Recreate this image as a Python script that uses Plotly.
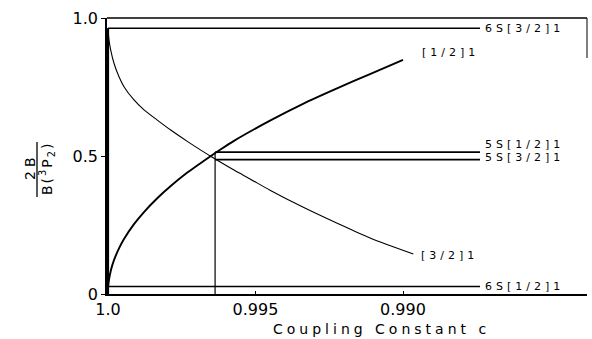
import plotly.graph_objects as go

# ---------------- data ----------------
# [1/2]1 curve (rising)
c_half = [1.0, 0.999966, 0.999898, 0.999797, 0.999627, 0.999458, 0.999119, 0.998780,
          0.998339, 0.997864, 0.997322, 0.996746, 0.996475, 0.996237, 0.995729,
          0.994508, 0.993390, 0.992237, 0.991119, 0.990000]
y_half = [0.025, 0.052, 0.088, 0.123, 0.165, 0.199, 0.253, 0.297,
          0.346, 0.392, 0.439, 0.483, 0.503, 0.520, 0.555,
          0.628, 0.689, 0.745, 0.797, 0.848]

# [3/2]1 curve (falling)
c_three = [1.0, 0.999966, 0.999908, 0.999797, 0.999627, 0.999458, 0.999119, 0.998780,
           0.998329, 0.997875, 0.997312, 0.996746, 0.996519, 0.995729, 0.995186,
           0.994508, 0.993380, 0.992248, 0.991119, 0.989651]
y_three = [0.963, 0.920, 0.884, 0.836, 0.787, 0.751, 0.703, 0.667,
           0.630, 0.594, 0.553, 0.514, 0.499, 0.449, 0.417,
           0.376, 0.314, 0.257, 0.203, 0.145]

level_names = ["6S[3/2]1", "5S[1/2]1", "5S[3/2]1", "6S[1/2]1"]
level_values = [0.963, 0.514, 0.487, 0.027]
level_c_start = [1.0, 0.99637, 0.99637, 1.0]
level_c_end = 0.98739
crossing_c = 0.99637

curve_labels = ["[1/2]1", "[3/2]1"]

x_tickvals = [1.0, 0.995, 0.990]
x_ticktext = ["1.0", "0.995", "0.990"]
y_tickvals = [0, 0.5, 1.0]
y_ticktext = ["0", "0.5", "1.0"]

x_range = [1.000034, 0.983763]
y_range = [0.0, 1.0]

# ---------------- layout helpers ----------------
W, H = 592, 339
L, R, T, B = 107, 5, 18, 45
PW, PH = W - L - R, H - T - B
FONT = "DejaVu Sans"


def px2paper_x(px):
    return (px - L) / PW


def px2paper_y(py):
    return (H - B - py) / PH


def spaced(text, sp):
    return f'<span style="letter-spacing:{sp}px">{text}</span>'


fig = go.Figure()

# curves
fig.add_trace(go.Scatter(x=c_half, y=y_half, mode="lines",
                         line=dict(color="black", width=1.9, shape="spline", smoothing=0.8),
                         cliponaxis=False, showlegend=False))
fig.add_trace(go.Scatter(x=c_three, y=y_three, mode="lines",
                         line=dict(color="black", width=1.1, shape="spline", smoothing=0.8),
                         cliponaxis=False, showlegend=False))

# level lines
for name, val, cs in zip(level_names, level_values, level_c_start):
    fig.add_trace(go.Scatter(x=[cs, level_c_end], y=[val, val], mode="lines",
                             line=dict(color="black", width=1.6),
                             cliponaxis=False, showlegend=False))

# vertical line at crossing
fig.add_trace(go.Scatter(x=[crossing_c, crossing_c], y=[0, level_values[1]], mode="lines",
                         line=dict(color="black", width=1.2),
                         cliponaxis=False, showlegend=False))
# thick vertical at c = 1.0
fig.add_trace(go.Scatter(x=[c_half[0], c_half[0]], y=[0, level_values[0]], mode="lines",
                         line=dict(color="black", width=2.2),
                         cliponaxis=False, showlegend=False))

annotations = []
lab_font = dict(family=FONT, size=11, color="black")
level_yshift = [0, 8, 2, 0]
for name, val, ys in zip(level_names, level_values, level_yshift):
    annotations.append(dict(x=level_c_end, y=val, xref="x", yref="y",
                            text=spaced(name, 4), showarrow=False,
                            xanchor="left", yanchor="middle", xshift=3, yshift=ys,
                            font=lab_font))
annotations.append(dict(x=c_half[-1], y=y_half[-1], xref="x", yref="y",
                        text=spaced(curve_labels[0], 4), showarrow=False,
                        xanchor="left", yanchor="middle", xshift=17, yshift=7,
                        font=lab_font))
annotations.append(dict(x=c_three[-1], y=y_three[-1], xref="x", yref="y",
                        text=spaced(curve_labels[1], 4), showarrow=False,
                        xanchor="left", yanchor="middle", xshift=6, yshift=-2,
                        font=lab_font))

# x-axis title
annotations.append(dict(x=px2paper_x(381), y=px2paper_y(329), xref="paper", yref="paper",
                        text=spaced("Coupling Constant c", 4), showarrow=False,
                        xanchor="center", yanchor="middle",
                        font=dict(family=FONT, size=14, color="black")))
# y-axis title as a fraction
annotations.append(dict(x=px2paper_x(30), y=px2paper_y(167), xref="paper", yref="paper",
                        text=spaced("2B", 4), showarrow=False, textangle=-90,
                        xanchor="center", yanchor="middle",
                        font=dict(family=FONT, size=14, color="black")))
annotations.append(dict(x=px2paper_x(47), y=px2paper_y(169), xref="paper", yref="paper",
                        text=spaced("B(<sup>3</sup>P<sub>2</sub>)", 2), showarrow=False,
                        textangle=-90, xanchor="center", yanchor="middle",
                        font=dict(family=FONT, size=14, color="black")))

shapes = [
    # fraction bar
    dict(type="line", xref="paper", yref="paper",
         x0=px2paper_x(37), x1=px2paper_x(37), y0=px2paper_y(142), y1=px2paper_y(197),
         line=dict(color="black", width=1.3)),
    # top border
    dict(type="line", xref="paper", yref="paper", x0=0, x1=1, y0=1, y1=1,
         line=dict(color="black", width=1.5)),
    # partial right border
    dict(type="line", xref="paper", yref="paper", x0=1, x1=1, y0=1, y1=px2paper_y(58),
         line=dict(color="black", width=1.0)),
]

tick_font = dict(family=FONT, size=16, color="black")
fig.update_layout(
    width=W, height=H,
    margin=dict(l=L, r=R, t=T, b=B, pad=0),
    paper_bgcolor="white", plot_bgcolor="white",
    showlegend=False,
    annotations=annotations,
    shapes=shapes,
    xaxis=dict(range=x_range, tickvals=x_tickvals, ticktext=x_ticktext,
               ticks="inside", ticklen=3, tickwidth=1.2, tickcolor="black",
               showline=True, linecolor="black", linewidth=2,
               showgrid=False, zeroline=False, tickfont=tick_font),
    yaxis=dict(range=y_range, tickvals=y_tickvals, ticktext=y_ticktext,
               ticks="outside", ticklen=4, tickwidth=1.2, tickcolor="black",
               showline=True, linecolor="black", linewidth=1.5,
               showgrid=False, zeroline=False, tickfont=tick_font),
)

fig.write_html("out.html")
